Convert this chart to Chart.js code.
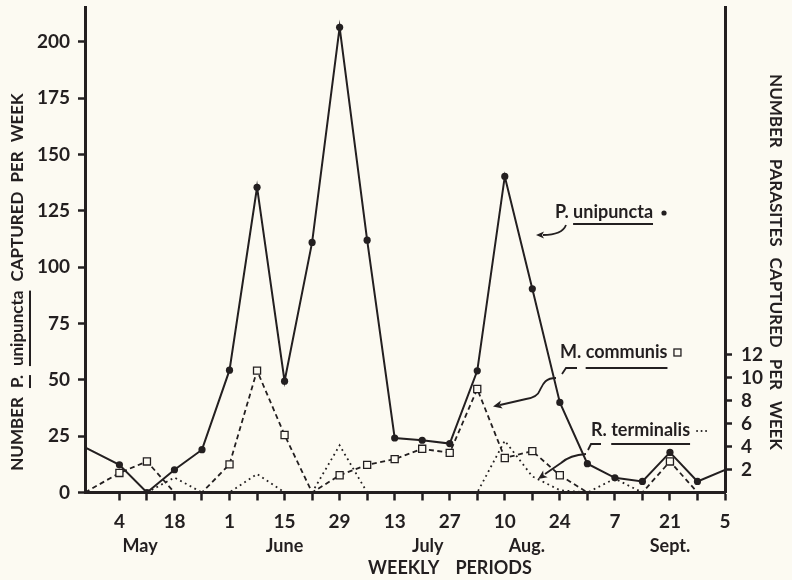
<!DOCTYPE html>
<html><head><meta charset="utf-8">
<script src="https://cdn.jsdelivr.net/npm/chart.js@4.4.1/dist/chart.umd.min.js"></script>
<style>html,body{margin:0;padding:0;background:#fcfaf2;}#wrap{width:792px;height:580px;}</style>
</head><body><div id="wrap"><canvas id="c" width="792" height="580"></canvas></div>
<script>
// week index: 0 = Apr 27, 1 = May 4, ... 23 = Oct 5
const labelWeeks = [1,3,5,7,9,11,13,15,17,19,21,23];
const weekLabels = ['4','18','1','15','29','13','27','10','24','7','21','5'];
const months = ['May','June','July','Aug.','Sept.'];
const monthWeeks = [1.75,7,12.2,15.8,21];
const leftTicks = [0,25,50,75,100,125,150,175,200];
const rightTicks = [2,4,6,8,10,12];

const unipunctaWeeks = [-0.25,1,2,3,4,5,6,7,8,9,10,11,12,13,14,15,16,17,18,19,20,21,22,23];
const unipuncta = [20,12.3,0,10.1,19,54.3,135.5,49.4,111,206.5,112,24.2,23.2,21.7,54,140.3,90.4,40,12.8,6.5,4.9,17.8,4.9,10];
const communisWeeks = [-0.25,1,2,3,4,5,6,7,8,9,10,11,12,13,14,15,16,17,18,19,20,21,22];
const communis = [0,1.7,2.7,0,0,2.45,10.6,5.0,0,1.5,2.4,2.9,3.8,3.45,9.0,3.0,3.6,1.5,0,0,0,2.7,0];
const terminalisWeeks = [2,3,4,5,6,7,8,9,10,11,12,13,14,15,16,17,18,19,20];
const terminalis = [0,1.3,0,0,1.6,0,0,4.1,0,0,0,0,0,4.5,1.4,0.2,0,1.2,0];

const INK = '#231f20';
const BG = '#fcfaf2';
const FONT = 'Lato';
const LEFT_MAX = 215.5;
const RIGHT_MAX = LEFT_MAX / 5.105;

function pts(xs, ys){ return xs.map((x,i)=>({x:x, y:ys[i]})); }

function arrowHead(ctx, x, y, ang, size){
  ctx.save();
  ctx.translate(x,y); ctx.rotate(ang);
  ctx.beginPath();
  ctx.moveTo(0,0); ctx.lineTo(-size, -size*0.45); ctx.lineTo(-size*0.75,0); ctx.lineTo(-size, size*0.45);
  ctx.closePath(); ctx.fill();
  ctx.restore();
}

function drawPieces(ctx, pieces, gap, underlineIdx, ulOffset){
  let total = 0;
  pieces.forEach((p,i)=>{ total += ctx.measureText(p).width + (i? gap:0); });
  let x = -total/2;
  pieces.forEach((p,i)=>{
    const w = ctx.measureText(p).width;
    ctx.fillText(p, x, 0);
    if (underlineIdx.indexOf(i) >= 0){
      ctx.fillRect(x, ulOffset, w, 2);
    }
    x += w + gap;
  });
}

function noPad(s){ s.paddingTop = 0; s.paddingBottom = 0; s.paddingLeft = 0; s.paddingRight = 0; }

const decor = {
  id:'decor',
  beforeDraw(chart){
    const ctx = chart.ctx;
    ctx.save(); ctx.fillStyle = BG; ctx.fillRect(0,0,chart.width,chart.height); ctx.restore();
  },
  afterDraw(chart){
    const ctx = chart.ctx;
    const xs = chart.scales.x;
    ctx.save();
    ctx.fillStyle = INK; ctx.strokeStyle = INK;
    ctx.textBaseline = 'middle';
    ctx.font = 'bold 18px ' + FONT;
    // month labels
    ctx.textAlign = 'center';
    months.forEach((m,i)=>{ ctx.fillText(m, xs.getPixelForValue(monthWeeks[i]), 546); });
    // x title
    ctx.textAlign = 'left';
    ctx.save(); ctx.translate(450, 568);
    drawPieces(ctx, ['WEEKLY','PERIODS'], 16, [], 0);
    ctx.restore();
    // left title
    ctx.save(); ctx.translate(18, 282); ctx.rotate(-Math.PI/2);
    ctx.font = 'bold 17px ' + FONT;
    drawPieces(ctx, ['NUMBER','P.','unipuncta','CAPTURED','PER','WEEK'], 9, [1,2], 11);
    ctx.restore();
    // right title
    ctx.save(); ctx.translate(775, 262); ctx.rotate(Math.PI/2);
    ctx.font = 'bold 17px ' + FONT;
    drawPieces(ctx, ['NUMBER','PARASITES','CAPTURED','PER','WEEK'], 11, [], 0);
    ctx.restore();

    // annotations
    ctx.font = 'bold 18px ' + FONT;
    ctx.textAlign = 'left';
    ctx.lineWidth = 1.8;
    // P. unipuncta
    ctx.fillText('P.', 555, 212);
    const pw = ctx.measureText('P. ').width;
    ctx.fillText('unipuncta', 555+pw, 212);
    const uw = ctx.measureText('unipuncta').width;
    ctx.fillRect(555+pw, 223, uw, 2);
    ctx.beginPath(); ctx.arc(555+pw+uw+11, 213, 2.6, 0, Math.PI*2); ctx.fill();
    ctx.beginPath(); ctx.moveTo(566,225); ctx.bezierCurveTo(563,233, 553,235, 543,235); ctx.stroke();
    arrowHead(ctx, 536, 235, Math.PI, 8);
    // M. communis
    ctx.fillText('M.', 560, 352);
    const mw = ctx.measureText('M. ').width;
    ctx.fillText('communis', 560+mw, 352);
    const cw = ctx.measureText('communis').width;
    ctx.fillRect(560+mw, 367, cw, 2);
    ctx.lineWidth = 1.3;
    ctx.strokeRect(560+mw+cw+6.5, 349, 7, 7);
    ctx.lineWidth = 1.8;
    ctx.beginPath(); ctx.moveTo(577,368); ctx.lineTo(566,368); ctx.lineTo(562,374); ctx.stroke();
    ctx.beginPath(); ctx.moveTo(556,378);
    ctx.bezierCurveTo(545,378, 543,384, 540,390);
    ctx.bezierCurveTo(538,396, 533,398, 526,399);
    ctx.lineTo(500,405); ctx.stroke();
    arrowHead(ctx, 493, 406.5, Math.PI - 0.22, 9);
    // R. terminalis
    ctx.fillText('R.', 591, 430);
    const rw = ctx.measureText('R. ').width;
    ctx.fillText('terminalis', 591+rw, 430);
    const tw = ctx.measureText('terminalis').width;
    ctx.fillRect(591+rw, 443, tw, 2);
    for (let k=0;k<3;k++){ ctx.beginPath(); ctx.arc(591+rw+tw+7+k*4.5, 431, 1, 0, Math.PI*2); ctx.fill(); }
    ctx.beginPath(); ctx.moveTo(601,444); ctx.lineTo(591,444); ctx.lineTo(588,450); ctx.stroke();
    ctx.beginPath(); ctx.moveTo(586,454); ctx.quadraticCurveTo(570,455, 561,463); ctx.lineTo(545,474); ctx.stroke();
    arrowHead(ctx, 538, 479, Math.PI - 0.6, 9);
    ctx.restore();
  }
};

const tickFont = {family: FONT, weight:'bold', size: 19};

new Chart(document.getElementById('c'), {
  type:'line',
  data:{ datasets:[
    { label:'P. unipuncta', data: pts(unipunctaWeeks, unipuncta), yAxisID:'y',
      borderColor: INK, borderWidth: 2, tension: 0,
      pointRadius: c => (c.dataIndex===0 || c.dataIndex===unipuncta.length-1) ? 0 : 3.6,
      pointBackgroundColor: INK, pointBorderWidth: 0 },
    { label:'M. communis', data: pts(communisWeeks, communis), yAxisID:'y1',
      borderColor: INK, borderWidth: 1.8, borderDash:[5,3.5], tension: 0,
      pointStyle:'rect', pointRadius: c => (communis[c.dataIndex]===0) ? 0 : 5,
      pointBackgroundColor: BG, pointBorderColor: INK, pointBorderWidth: 1.3 },
    { label:'R. terminalis', data: pts(terminalisWeeks, terminalis), yAxisID:'y1',
      borderColor: INK, borderWidth: 1.8, borderDash:[1.8,3.6], tension: 0, pointRadius: 0 }
  ]},
  options:{
    responsive:false, animation:false, devicePixelRatio:1,
    layout:{ padding:{ top:7, left:0, right:0, bottom:0 } },
    plugins:{ legend:{display:false}, tooltip:{enabled:false} },
    scales:{
      x:{ type:'linear', position:'bottom', min:-0.25, max:23,
        afterBuildTicks: s => { s.ticks = []; for (let w=1; w<=23; w++) s.ticks.push({value:w}); },
        afterFit: s => { s.height = 87.5; noPad(s); },
        ticks:{ autoSkip:false, maxRotation:0, padding: 10, color: INK, font: tickFont,
          callback: v => { const i = labelWeeks.indexOf(v); return i>=0 ? weekLabels[i] : ''; } },
        grid:{ drawOnChartArea:false, drawTicks:true, tickLength:8, tickWidth:2.5, tickColor: INK, color: INK },
        border:{ display:true, width:3, color: INK }
      },
      y:{ type:'linear', position:'left', min:0, max:LEFT_MAX,
        afterBuildTicks: s => { s.ticks = leftTicks.map(v=>({value:v})); },
        afterFit: s => { s.width = 85; noPad(s); },
        ticks:{ padding: 8, color: INK, font: tickFont },
        grid:{ drawOnChartArea:false, drawTicks:true, tickLength:7, tickWidth:2.5, tickColor: INK, color: INK },
        border:{ display:true, width:3, color: INK }
      },
      y1:{ type:'linear', position:'right', min:0, max:RIGHT_MAX,
        afterBuildTicks: s => { s.ticks = rightTicks.map(v=>({value:v})); },
        afterFit: s => { s.width = 67; noPad(s); },
        ticks:{ padding: 9, color: INK, font: tickFont },
        grid:{ drawOnChartArea:false, drawTicks:true, tickLength:7, tickWidth:2.5, tickColor: INK, color: INK },
        border:{ display:true, width:3, color: INK }
      }
    }
  },
  plugins:[decor]
});
</script>
</body></html>
